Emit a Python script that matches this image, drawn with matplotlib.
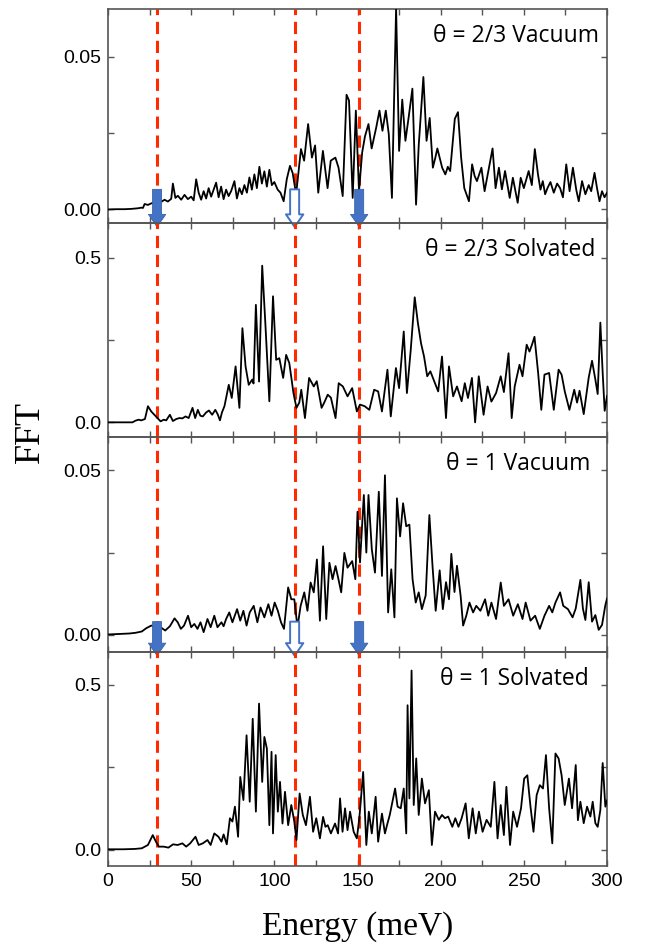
import numpy as np
import matplotlib
matplotlib.use("Agg")
import matplotlib.pyplot as plt
from matplotlib.patches import FancyArrowPatch
from matplotlib.ticker import MultipleLocator, FormatStrFormatter

plt.rcParams["font.family"] = ["Liberation Sans", "DejaVu Sans"]

# (energy meV, FFT) points
vac23 = [
    (0, 0.0000), (5, 0.0001), (10, 0.0001), (14, 0.0002), (18, 0.0004), (20, 0.0006), (21, 0.0005),
    (22, 0.0018), (24, 0.0015), (26, 0.0020), (28, 0.0024), (30, 0.0030), (32, 0.0025), (34, 0.0032),
    (36, 0.0026), (38, 0.0035), (39, 0.0085), (40.5, 0.0038), (42, 0.0045), (44, 0.0032), (46, 0.0048),
    (48, 0.0034), (50, 0.0042), (51.5, 0.0030), (53, 0.0099), (54.5, 0.0055), (56, 0.0032), (57.5, 0.0060),
    (59, 0.0036), (60.5, 0.0070), (62, 0.0042), (63.5, 0.0065), (65, 0.0088), (66.5, 0.0040), (68, 0.0075),
    (69.5, 0.0034), (71, 0.0065), (72.5, 0.0044), (74, 0.0060), (76, 0.0093), (77.5, 0.0036), (79, 0.0070),
    (80.5, 0.0050), (82, 0.0080), (83.5, 0.0055), (85, 0.0105), (86.5, 0.0065), (88, 0.0115), (89.5, 0.0070),
    (91, 0.0140), (92.5, 0.0085), (94, 0.0125), (95.5, 0.0075), (97, 0.0130), (98.5, 0.0080), (100, 0.0090),
    (102, 0.0065), (103.7, 0.0055), (105.6, 0.0027), (107.5, 0.0100), (109.4, 0.0143), (111, 0.0120),
    (113.1, 0.0050), (116, 0.0198), (117.9, 0.0160), (120.3, 0.0280), (122.6, 0.0170), (124.5, 0.0210),
    (126.4, 0.0055), (129.2, 0.0192), (132, 0.0070), (133.9, 0.0160), (136.7, 0.0170), (138.6, 0.0137),
    (141.1, 0.0044), (143.4, 0.0376), (144.9, 0.0357), (147.1, 0.0038), (149, 0.0324), (150.9, 0.0060),
    (152.8, 0.0187), (154.5, 0.0240), (156.6, 0.0280), (158.5, 0.0200), (161.3, 0.0270), (163.2, 0.0324),
    (165, 0.0258), (167, 0.0324), (168.8, 0.0247), (170.7, 0.0038), (173.2, 0.0660), (175, 0.0192),
    (176.9, 0.0360), (178.8, 0.0225), (180.7, 0.0300), (183, 0.0396), (185.2, 0.0016), (186.8, 0.0210),
    (189.6, 0.0434), (191.5, 0.0225), (193.4, 0.0300), (195.3, 0.0137), (196.8, 0.0170), (198, 0.0200),
    (200.9, 0.0137), (202.8, 0.0115), (204.3, 0.0140), (205.7, 0.0126), (208.5, 0.0297), (210.4, 0.0319),
    (212.3, 0.0170), (214.2, 0.0070), (217, 0.0027), (218.9, 0.0148), (220.4, 0.0110), (221.8, 0.0093),
    (224.5, 0.0137), (226.4, 0.0060), (228.3, 0.0115), (231.2, 0.0200), (233, 0.0070), (235, 0.0137),
    (236.8, 0.0066), (238.7, 0.0126), (241.5, 0.0038), (243.4, 0.0104), (246.3, 0.0022), (248.1, 0.0104),
    (250, 0.0070), (252.9, 0.0126), (254.8, 0.0080), (256.6, 0.0198), (258.5, 0.0115), (260, 0.0065),
    (261.4, 0.0093), (262.8, 0.0050), (264.2, 0.0070), (266, 0.0090), (268, 0.0055), (270, 0.0085),
    (271.8, 0.0070), (273.5, 0.0040), (275.5, 0.0148), (277.5, 0.0060), (279.5, 0.0137), (281.5, 0.0065),
    (283, 0.0027), (285, 0.0093), (287, 0.0050), (289, 0.0080), (290.5, 0.0060), (292.5, 0.0120),
    (294, 0.0070), (295.5, 0.0027), (297, 0.0060), (298.5, 0.0040), (300, 0.0055),
]

sol23 = [
    (0, 0.000), (6, 0.000), (10, 0.000), (14.7, 0.000), (16.5, 0.005), (18.4, 0.008), (20, 0.006),
    (22.2, 0.010), (24, 0.049), (26, 0.033), (28.8, 0.018), (31.6, 0.003), (33.5, 0.008), (35, 0.006),
    (37.2, 0.023), (39, 0.004), (41, 0.010), (42.9, 0.013), (44.7, 0.012), (46.6, 0.018), (48.5, 0.013),
    (50.8, 0.044), (52.4, 0.013), (54, 0.038), (55.5, 0.020), (57, 0.018), (59, 0.030), (60.7, 0.036),
    (62.6, 0.023), (64.5, 0.038), (65.9, 0.025), (67.3, 0.006), (68.5, 0.030), (70, 0.049), (72.6, 0.114),
    (74.4, 0.074), (76.7, 0.170), (79, 0.044), (80.8, 0.286), (82.7, 0.170), (84.6, 0.114), (86.7, 0.130),
    (87.5, 0.118), (88.9, 0.357), (90.8, 0.124), (92.7, 0.476), (94.6, 0.300), (97, 0.064), (99.2, 0.383),
    (101.1, 0.190), (103, 0.195), (105.3, 0.135), (107.1, 0.205), (109, 0.180), (111.5, 0.089),
    (113.3, 0.044), (115, 0.060), (116.2, 0.099), (118.4, 0.013), (120.9, 0.135), (122.5, 0.120),
    (123.7, 0.109), (125.5, 0.125), (128.4, 0.044), (130, 0.060), (132.1, 0.084), (134, 0.075),
    (136.8, 0.013), (138.7, 0.119), (141.2, 0.109), (144, 0.079), (146.8, 0.104), (149.6, 0.033),
    (151.5, 0.054), (154.3, 0.049), (157.1, 0.038), (160, 0.099), (162.4, 0.094), (164.7, 0.033),
    (168, 0.160), (170, 0.018), (173.1, 0.165), (175, 0.104), (177.8, 0.276), (179.7, 0.089), (182, 0.220),
    (184.4, 0.380), (186.3, 0.302), (188.2, 0.240), (190, 0.200), (191.9, 0.140), (193.8, 0.155),
    (195.7, 0.130), (198.5, 0.094), (200.8, 0.200), (203.2, 0.013), (205, 0.170), (207.5, 0.079),
    (209.8, 0.109), (212.6, 0.064), (214.5, 0.119), (216.4, 0.074), (218.8, 0.135), (220.7, 0.000),
    (222.9, 0.140), (225.8, 0.023), (228.2, 0.109), (230.5, 0.063), (233.3, 0.089), (236.1, 0.140),
    (238, 0.092), (240.8, 0.210), (242.7, 0.013), (244.5, 0.109), (247.4, 0.175), (249.2, 0.140),
    (251.7, 0.236), (253.4, 0.215), (254.9, 0.236), (256.4, 0.260), (258.6, 0.150), (260.5, 0.038),
    (262.4, 0.145), (265.2, 0.150), (268, 0.038), (270.9, 0.160), (272.7, 0.145), (274.6, 0.094),
    (277.4, 0.038), (280.3, 0.099), (282, 0.060), (283.5, 0.096), (286, 0.025), (289, 0.136), (291, 0.187),
    (293, 0.130), (294.4, 0.086), (296, 0.303), (297.4, 0.150), (298.6, 0.035), (300, 0.080),
]

vac1 = [
    (0, 0.0001), (5, 0.0002), (9, 0.0003), (13, 0.0004), (16.5, 0.0006), (20.3, 0.0010), (23, 0.0020),
    (26, 0.0028), (28.8, 0.0026), (31.6, 0.0023), (34.4, 0.0013), (37.2, 0.0026), (40, 0.0050),
    (41.9, 0.0038), (43.8, 0.0018), (45.7, 0.0028), (48.1, 0.0058), (50, 0.0023), (51.9, 0.0033),
    (53.8, 0.0018), (55.6, 0.0038), (57.5, 0.0008), (59.8, 0.0048), (61.7, 0.0023), (63.9, 0.0058),
    (65.8, 0.0023), (68.2, 0.0038), (69.5, 0.0026), (71, 0.0048), (72.9, 0.0068), (74.8, 0.0038),
    (77.6, 0.0078), (79.5, 0.0043), (81.4, 0.0073), (83.3, 0.0028), (85.2, 0.0068), (87.6, 0.0088),
    (89.8, 0.0038), (91.7, 0.0083), (94, 0.0053), (96.4, 0.0093), (98.3, 0.0058), (100.2, 0.0098),
    (102.1, 0.0073), (104, 0.0038), (105.8, 0.0018), (108.3, 0.0144), (110.2, 0.0108), (112, 0.0108),
    (113.9, 0.0023), (115.8, 0.0088), (118, 0.0129), (119.9, 0.0073), (121.8, 0.0159), (123.7, 0.0129),
    (125.6, 0.0229), (127.4, 0.0043), (129.3, 0.0269), (131.2, 0.0048), (133.1, 0.0219), (135, 0.0169),
    (136.8, 0.0209), (138.5, 0.0170), (140.2, 0.0129), (142.1, 0.0249), (144, 0.0204), (146.8, 0.0224),
    (148.7, 0.0169), (150, 0.0374), (151.5, 0.0220), (153.8, 0.0425), (155.3, 0.0250), (156.6, 0.0425),
    (158.6, 0.0260), (160.5, 0.0189), (162.8, 0.0435), (164.7, 0.0179), (166.5, 0.0485), (168.4, 0.0068),
    (170.3, 0.0199), (172.2, 0.0053), (173.7, 0.0415), (175.6, 0.0299), (177.4, 0.0400), (179.3, 0.0330),
    (181.2, 0.0335), (183.1, 0.0169), (185, 0.0098), (186.8, 0.0129), (188.7, 0.0078), (191, 0.0120),
    (193.2, 0.0364), (195.1, 0.0209), (197, 0.0073), (199.4, 0.0196), (201.3, 0.0078), (203.2, 0.0160),
    (205, 0.0108), (206.4, 0.0246), (208.3, 0.0130), (209.8, 0.0210), (212, 0.0118), (213.5, 0.0028),
    (215.4, 0.0058), (217.3, 0.0098), (219.5, 0.0068), (221.4, 0.0088), (223.9, 0.0073), (226.7, 0.0108),
    (228.6, 0.0058), (230.5, 0.0098), (233.3, 0.0048), (236.1, 0.0159), (238, 0.0088), (240.8, 0.0108),
    (243.6, 0.0058), (246.4, 0.0093), (249.2, 0.0048), (251.1, 0.0098), (254, 0.0043), (256.8, 0.0058),
    (259.6, 0.0018), (262.4, 0.0058), (265.2, 0.0088), (267.1, 0.0068), (269, 0.0098), (271.8, 0.0129),
    (273.7, 0.0088), (276.5, 0.0078), (279.3, 0.0053), (281.2, 0.0080), (284, 0.0167), (285.5, 0.0080),
    (287, 0.0045), (289, 0.0160), (291, 0.0040), (293, 0.0060), (295, 0.0015), (297, 0.0030),
    (299, 0.0090), (300, 0.0110),
]

sol1 = [
    (0, 0.002), (9, 0.002), (16, 0.003), (20.3, 0.005), (24, 0.015), (26.9, 0.045), (28.8, 0.025),
    (30.6, 0.010), (33.5, 0.010), (36.3, 0.007), (39.1, 0.017), (41.9, 0.015), (44.7, 0.020), (47, 0.010),
    (49.4, 0.020), (52.6, 0.040), (54.5, 0.015), (57, 0.020), (59.8, 0.030), (61.7, 0.015), (63.9, 0.050),
    (66.4, 0.040), (68.2, 0.025), (69.5, 0.047), (71.4, 0.017), (73.3, 0.096), (74.8, 0.086), (76.3, 0.131),
    (78.2, 0.040), (79.5, 0.221), (81.4, 0.151), (83.3, 0.347), (85.2, 0.146), (87, 0.397), (88.9, 0.116),
    (90.8, 0.443), (92.7, 0.206), (94, 0.342), (95.5, 0.307), (97, 0.075), (98.3, 0.297), (99.2, 0.050),
    (100.8, 0.287), (102.1, 0.116), (103.4, 0.206), (104.9, 0.080), (106.4, 0.176), (108.3, 0.075),
    (110.2, 0.136), (112, 0.086), (113.3, 0.030), (115.2, 0.171), (117.1, 0.106), (119, 0.075),
    (121.4, 0.161), (123.3, 0.055), (125.2, 0.096), (127.4, 0.035), (129.3, 0.100), (130.7, 0.070),
    (132.1, 0.075), (134, 0.050), (136.5, 0.080), (138.3, 0.050), (139.5, 0.156), (141, 0.055),
    (142.5, 0.126), (144, 0.060), (145.5, 0.116), (147.7, 0.055), (149.6, 0.035), (151.1, 0.096),
    (153.4, 0.236), (155.3, 0.015), (156.8, 0.116), (158.6, 0.050), (160.9, 0.161), (162.4, 0.025),
    (164.7, 0.110), (166.5, 0.050), (168, 0.080), (169.4, 0.106), (171.2, 0.151), (172.6, 0.186),
    (174.1, 0.131), (176, 0.126), (177.8, 0.186), (179.3, 0.050), (180.1, 0.438), (181.2, 0.156),
    (182.5, 0.543), (183.8, 0.136), (185.3, 0.277), (186.8, 0.106), (188.7, 0.216), (190.6, 0.141),
    (192.9, 0.181), (194.7, 0.015), (196.6, 0.116), (198.9, 0.091), (200.8, 0.106), (202.6, 0.096),
    (204.5, 0.101), (207, 0.070), (208.8, 0.096), (210.7, 0.070), (212.6, 0.096), (215, 0.141),
    (216.9, 0.035), (219.2, 0.126), (221.1, 0.050), (223, 0.116), (225.2, 0.055), (227.6, 0.091),
    (230.1, 0.070), (232.3, 0.206), (234.2, 0.035), (236.1, 0.136), (238, 0.045), (239.5, 0.191),
    (241.7, 0.015), (243.6, 0.116), (245.9, 0.070), (248.3, 0.126), (250.2, 0.216), (252.1, 0.226),
    (254, 0.131), (255.8, 0.055), (257.7, 0.166), (259.6, 0.196), (261.5, 0.186), (263.3, 0.287),
    (265.2, 0.126), (267.1, 0.020), (269, 0.292), (270.9, 0.277), (272.7, 0.226), (274.6, 0.136),
    (277.1, 0.216), (279, 0.126), (281.2, 0.257), (282.5, 0.090), (284, 0.146), (286, 0.081),
    (288, 0.131), (290, 0.101), (291.4, 0.146), (293, 0.081), (294.4, 0.070), (296, 0.121),
    (297.4, 0.263), (299, 0.131), (300, 0.150),
]

panel_data = [vac23, sol23, vac1, sol1]
panel_labels = ["θ = 2/3 Vacuum", "θ = 2/3 Solvated", "θ = 1 Vacuum", "θ = 1 Solvated"]
mode_energies = [29.5, 112.2, 151.0]          # red dashed lines
arrow_filled = [True, False, True]           # hollow arrow at the middle mode

# per-panel axis settings
ylims = [(-0.0045, 0.0657), (-0.046, 0.605), (-0.00515, 0.060), (-0.0485, 0.60)]
ysteps = [0.05, 0.5, 0.05, 0.5]
yfmts = ["%.2f", "%.1f", "%.2f", "%.1f"]
label_x = [0.983, 0.977, 0.967, 0.963]
arrow_top = [0.0066, None, 0.0040, None]

fig = plt.figure(figsize=(6.59, 9.46), dpi=100)
gs = fig.add_gridspec(4, 1, left=0.1639, right=0.9211, top=0.9905, bottom=0.0846, hspace=0)
axes = []
for i in range(4):
    ax = fig.add_subplot(gs[i], sharex=axes[0] if axes else None)
    axes.append(ax)

red = "#ff2a00"
blue = "#4472c4"

for i, ax in enumerate(axes):
    e, v = np.array(panel_data[i]).T
    ax.set_facecolor("none")
    ax.plot(e, v, color="black", lw=1.3, zorder=3)
    ax.set_xlim(0, 300)
    ax.set_ylim(*ylims[i])

    for en in mode_energies:
        ax.axvline(en, color=red, lw=2.2, ls=(0, (4, 2.2)), zorder=2)

    if arrow_top[i] is not None:
        lo = ylims[i][0]
        tip = lo - 0.0012
        for en, filled in zip(mode_energies, arrow_filled):
            arr = FancyArrowPatch(
                (en, arrow_top[i]), (en, tip),
                arrowstyle="simple,head_length=0.9,head_width=1.25,tail_width=0.65",
                mutation_scale=10, shrinkA=0, shrinkB=0,
                fc=blue if filled else "white", ec=blue if not filled else "#3a62ab",
                lw=1.4 if not filled else 0.6, clip_on=False, zorder=6)
            ax.add_patch(arr)

    ax.text(label_x[i], 0.875, panel_labels[i], transform=ax.transAxes,
            ha="right", va="center", fontsize=16.5, family=["Open Sans", "DejaVu Sans"])

    ax.yaxis.set_major_locator(MultipleLocator(ysteps[i]))
    ax.yaxis.set_minor_locator(MultipleLocator(ysteps[i] / 2))
    ax.yaxis.set_major_formatter(FormatStrFormatter(yfmts[i]))
    ax.xaxis.set_major_locator(MultipleLocator(50))
    ax.xaxis.set_minor_locator(MultipleLocator(25))
    ax.tick_params(which="both", direction="in", top=True, right=True,
                   length=4, width=1, color="#555555", labelsize=14, pad=5)
    for sp in ax.spines.values():
        sp.set_color("#555555")
        sp.set_linewidth(1.2)
    if i < 3:
        ax.tick_params(labelbottom=False)

fig.text(0.5425, 1 - 927 / 946, "Energy (meV)", ha="center", va="center",
         fontsize=24, family=["Liberation Serif", "DejaVu Serif"])
fig.text(30 / 659, 1 - 432 / 946, "FFT", ha="center", va="center", rotation=90,
         fontsize=26, family=["Liberation Serif", "DejaVu Serif"])

fig.savefig("out.png", dpi=100, facecolor="white")
